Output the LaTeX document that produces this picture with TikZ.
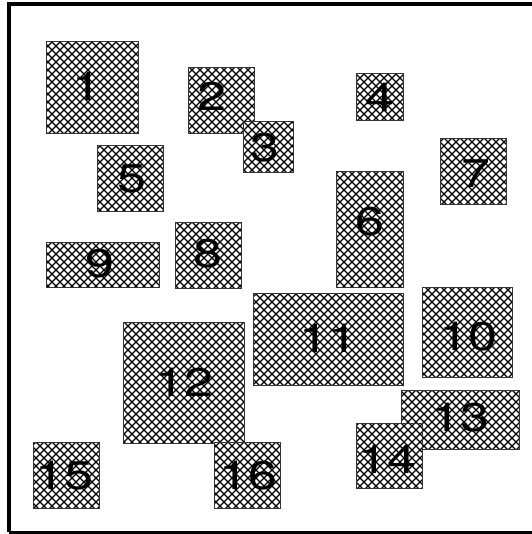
\documentclass[tikz,border=0pt]{standalone}
\usepackage{fontspec}
\setmainfont{TeX Gyre Heros}
\newcommand{\wdig}[1]{\scalebox{1.3}[1]{#1}}
\tikzset{
  box/.style={fill=white, inner sep=0pt},
  boxline/.style={draw=black!80, line width=1pt},
  hatchline/.style={draw=black, line width=1.3pt},
  lbl/.style={inner sep=0pt, font=\fontsize{40}{40}\selectfont, text=black},
  frame/.style={draw=black, line width=3.5pt}
}
% #1 name, #2 cx, #3 cy, #4 w, #5 h, #6 label, #7 lx, #8 ly
\newcommand{\hbx}[8]{%
  \node[box, minimum width=#4pt, minimum height=#5pt] (b#1) at (#2,#3) {};
  \begin{scope}
    \clip (b#1.south west) rectangle (b#1.north east);
    \pgfmathsetmacro\xa{#2-#4/2}\pgfmathsetmacro\xb{#2+#4/2}
    \pgfmathsetmacro\ya{#3-#5/2}\pgfmathsetmacro\yb{#3+#5/2}
    \pgfmathsetmacro\L{#4+#5+30}
    \pgfmathtruncatemacro\ka{floor((\xa-\yb)/8)-1}
    \pgfmathtruncatemacro\kb{ceil((\xb-\ya)/8)+1}
    \pgfmathtruncatemacro\kc{floor((\xa+\ya)/8)-1}
    \pgfmathtruncatemacro\kd{ceil((\xb+\yb)/8)+1}
    \foreach \k in {\ka,...,\kb}{\draw[hatchline] (\k*8+\ya-10,\ya-10) -- ++(\L,\L);}
    \foreach \k in {\kc,...,\kd}{\draw[hatchline] (\k*8-\ya+10,\ya-10) -- ++(-\L,\L);}
  \end{scope}
  \draw[boxline] (b#1.south west) rectangle (b#1.north east);
  \node[lbl] (t#1) at (#7,#8) {\wdig{#6}};
}
\begin{document}
\begin{tikzpicture}[x=1pt,y=1pt]
\useasboundingbox (0,0) rectangle (531,534);
\draw[frame] (9,1.5) -- (9,530) -- (535,530) (9,1.5) -- (535,1.5);
\hbx{1}{92.5}{446.5}{91}{91}{1}{87}{448}
\hbx{2}{221.5}{433.5}{65}{65}{2}{212}{438}
\hbx{3}{268.5}{387}{49}{50}{3}{265}{386}
\hbx{4}{380}{437}{46}{46}{4}{380}{437}
\hbx{5}{130.5}{355.5}{65}{65}{5}{132}{355}
\hbx{6}{370}{304.5}{66}{115}{6}{370}{312}
\hbx{7}{473.5}{362.5}{65}{65}{7}{476}{360}
\hbx{8}{208.5}{278.5}{65}{65}{8}{208}{280}
\hbx{9}{103}{269}{112}{44}{9}{100}{270}
\hbx{10}{467.5}{201.5}{89}{89}{10}{468}{197}
\hbx{11}{328.5}{194.5}{149}{91}{11}{328}{196}
\hbx{12}{184}{151}{120}{120}{12}{184}{152}
\hbx{13}{460.5}{114}{117}{58}{13}{460}{116}
\hbx{14}{389.5}{78}{65}{64}{14}{387}{75}
\hbx{15}{66.5}{58.5}{65}{65}{15}{64}{58}
\hbx{16}{247.5}{58.5}{65}{65}{16}{248}{58}
\end{tikzpicture}
\end{document}
